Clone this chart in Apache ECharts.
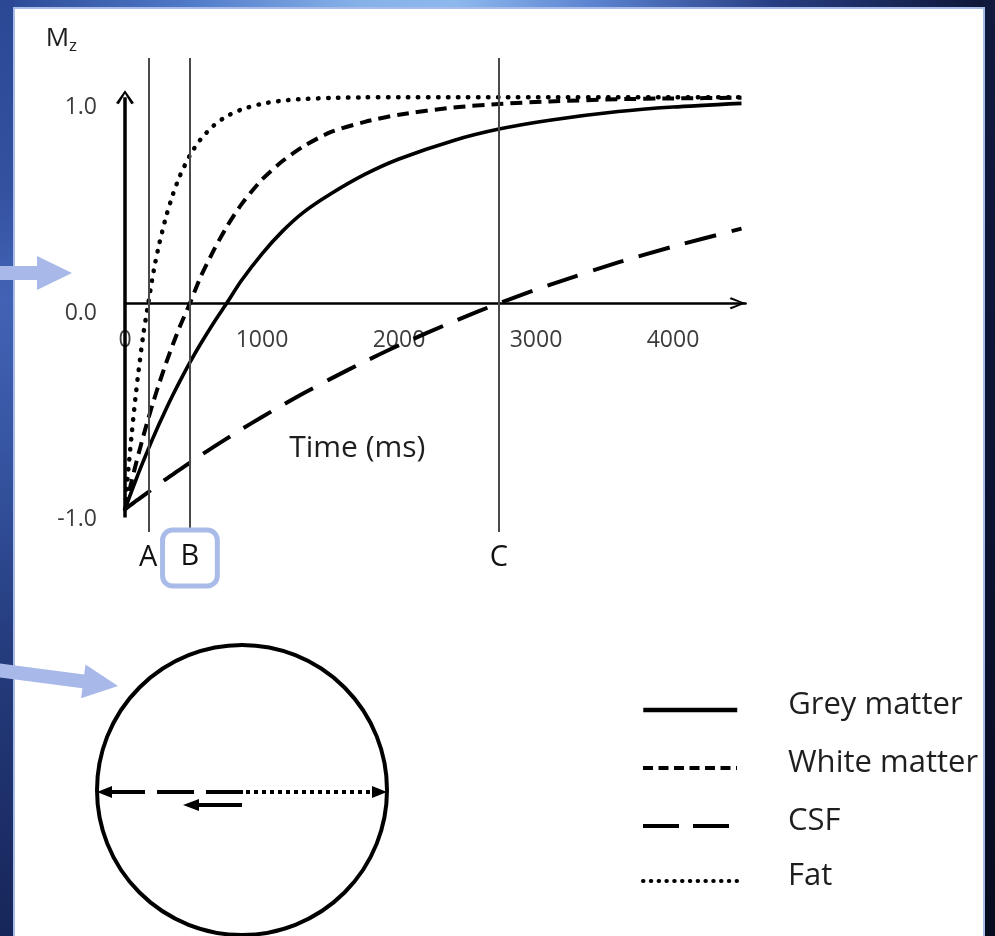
<!DOCTYPE html>
<html>
<head>
<meta charset="utf-8">
<title>Inversion recovery: longitudinal magnetisation</title>
<script src="https://cdn.jsdelivr.net/npm/echarts/dist/echarts.min.js"></script>
<style>
  html, body { margin: 0; padding: 0; width: 995px; height: 936px; overflow: hidden; background: #121d45; }
  #bgTop { position: absolute; left: 0; top: 0; width: 995px; height: 9px;
    background: linear-gradient(90deg, #2a4894 0%, #4d77c6 18%, #86b2ea 36%, #8db8ee 46%, #5a82cf 60%, #273d82 78%, #0d1534 100%); }
  #bgLeft { position: absolute; left: 0; top: 0; width: 15px; height: 936px;
    background: linear-gradient(180deg, #2a4894 0%, #33519f 20%, #4263b5 32%, #3655a2 48%, #243b7c 70%, #17265a 100%); }
  #bgRight { position: absolute; right: 0; top: 0; width: 12px; height: 936px;
    background: linear-gradient(180deg, #101a3e 0%, #0c1433 50%, #070b1f 100%); }
  #panel { position: absolute; left: 13px; top: 7px; width: 972px; height: 940px; background: #ffffff;
    box-sizing: border-box; border: 2px solid #a9bbe8; }
  #chart { position: absolute; left: 0; top: 0; width: 995px; height: 936px; }
</style>
</head>
<body>
<div id="bgTop"></div>
<div id="bgLeft"></div>
<div id="bgRight"></div>
<div id="panel"></div>
<div id="chart"></div>
<script>
// Sample times (ms) after the 180° inversion pulse
const times = [0, 25, 50, 75, 100, 135, 170, 210, 250, 300, 350, 400, 474, 550, 650,
               742, 850, 1000, 1150, 1300, 1500, 1750, 2000, 2400, 2730, 3100, 3600, 4000, 4500];

// Longitudinal magnetisation Mz for each tissue at those times
const greyMatter = [-1, -0.954, -0.909, -0.865, -0.822, -0.764, -0.708, -0.645, -0.585, -0.513,
                    -0.444, -0.379, -0.287, -0.199, -0.092, 0.0, 0.11, 0.24, 0.35, 0.44,
                    0.53, 0.625, 0.70, 0.79, 0.845, 0.888, 0.93, 0.952, 0.97];
const whiteMatter = [-1, -0.928, -0.859, -0.792, -0.728, -0.642, -0.560, -0.471, -0.388, -0.290,
                     -0.199, -0.114, 0.0, 0.125, 0.26, 0.37, 0.48, 0.60, 0.69, 0.76,
                     0.83, 0.88, 0.915, 0.95, 0.967, 0.979, 0.99, 0.994, 0.997];
const csf = [-1, -0.987, -0.975, -0.962, -0.950, -0.933, -0.916, -0.896, -0.877, -0.853,
             -0.830, -0.807, -0.774, -0.739, -0.696, -0.657, -0.612, -0.552, -0.494, -0.438,
             -0.367, -0.283, -0.204, -0.088, 0.0, 0.089, 0.198, 0.275, 0.362];
const fat = [-1, -0.804, -0.627, -0.467, -0.323, -0.145, 0.0, 0.160, 0.288, 0.421,
             0.529, 0.617, 0.718, 0.794, 0.864, 0.907, 0.940, 0.968, 0.983, 0.991,
             0.996, 0.999, 1.0, 1.0, 1.0, 1.0, 1.0, 1.0, 1.0];

// Tissue names, in legend order
const tissues = ['Grey matter', 'White matter', 'CSF', 'Fat'];

// Inversion times marked on the time axis (null points of fat, white matter, CSF)
const markerNames = ['A', 'B', 'C'];
const markerTimes = [170, 474, 2730];

// Axis tick values
const timeTicks = [0, 1000, 2000, 3000, 4000];
const mzTicks = [-1, 0, 1];

const FONT = '"Open Sans", "DejaVu Sans", sans-serif';
const chevron = 'path://M6,0 L12,14.6 L10.2,16 L6,4.2 L1.8,16 L0,14.6 Z';

// Value-axis range: extends past ±1 so the A/B/C guide lines span the full grid
const Y_MIN = -1.11, Y_MAX = 1.19;
const GRID_TOP = 58, GRID_HEIGHT = 474;
const zeroOffset = -(GRID_HEIGHT * (-Y_MIN) / (Y_MAX - Y_MIN));

// Line styles of the four tissues (chart strokes, then the shorter legend keys)
const seriesStyles = [
  { color: '#000', width: 3.6, type: 'solid' },
  { color: '#000', width: 4, type: [12, 7] },
  { color: '#000', width: 4, type: [32, 16] },
  { color: '#000', width: 4.5, type: [0.5, 9.5], cap: 'round' }
];
const legendStyles = [
  { width: 4.5, type: 'solid' },
  { width: 4, type: [10, 5.5] },
  { width: 4, type: [36, 14] },
  { width: 4, type: [0.5, 7.3], cap: 'round' }
];
const legendTops = [690, 748, 806, 861];

function pairs(values) { return times.map((t, i) => [t, values[i]]); }

const chart = echarts.init(document.getElementById('chart'), null, { renderer: 'canvas' });

const markerData = markerNames.map((name, i) => {
  const item = { xAxis: markerTimes[i], label: { formatter: name } };
  if (name === 'B') {
    item.label = {
      formatter: name,
      distance: -2,
      padding: [12, 18, 14, 18],
      borderColor: '#a9bbe8',
      borderWidth: 5,
      borderRadius: 10
    };
  }
  return item;
});

const legends = tissues.map((name, i) => ({
  orient: 'vertical', left: 641, top: legendTops[i], padding: 0,
  itemWidth: 94, itemHeight: 14,
  selectedMode: false,
  data: [name],
  lineStyle: legendStyles[i],
  itemStyle: { color: 'rgba(0,0,0,0)', borderWidth: 0, opacity: 0 },
  formatter: n => '{s| }{t|' + n + '}',
  textStyle: {
    color: '#1e1e1e', fontFamily: FONT,
    rich: {
      s: { fontSize: 1, width: 46, lineHeight: 40 },
      t: { fontSize: 31, lineHeight: 40, verticalAlign: 'top', color: '#1e1e1e', fontFamily: FONT }
    }
  }
}));

const dataSets = [greyMatter, whiteMatter, csf, fat];
const series = tissues.map((name, i) => ({
  name: name, type: 'line', data: pairs(dataSets[i]),
  showSymbol: false, symbol: 'none', smooth: 0.25,
  lineStyle: seriesStyles[i],
  z: i === 0 ? 3 : 2
}));

// Guide lines at the inversion times, plus the Mz axis drawn with an arrowhead
series[0].markLine = {
  silent: true, animation: false,
  symbol: ['none', 'none'],
  lineStyle: { color: '#4a4a4a', width: 2, type: 'solid' },
  label: {
    show: true, position: 'start', distance: 11,
    fontSize: 29, lineHeight: 30, color: '#111', fontFamily: FONT
  },
  emphasis: { disabled: true },
  data: markerData.concat([
    [
      { coord: [0, -1.04], symbol: 'none', lineStyle: { color: '#000', width: 3.5 }, label: { show: false } },
      { coord: [0, 1.0], symbol: chevron, symbolSize: [18, 14] }
    ]
  ])
};

const option = {
  animation: false,
  grid: { left: 125, top: GRID_TOP, width: 620.6, height: GRID_HEIGHT, containLabel: false },
  xAxis: {
    type: 'value', min: 0, max: 4530, interval: 1000,
    offset: zeroOffset,
    axisLine: {
      onZero: false,
      lineStyle: { color: '#000', width: 2.5 },
      symbol: ['none', chevron], symbolSize: [13, 16], symbolOffset: [0, -8]
    },
    axisTick: { show: false },
    splitLine: { show: false },
    axisLabel: {
      margin: 26, fontSize: 23, color: '#3c3c3c', fontFamily: FONT,
      formatter: v => (timeTicks.indexOf(v) >= 0 ? String(v) : '')
    },
    name: 'Time (ms)', nameLocation: 'middle', nameGap: 127,
    nameTextStyle: { fontSize: 30, lineHeight: 36, color: '#1e1e1e', fontFamily: FONT, padding: [0, 156, 0, 0] }
  },
  yAxis: {
    type: 'value', min: Y_MIN, max: Y_MAX,
    axisLine: { show: false },
    axisTick: { show: false },
    splitLine: { show: false },
    axisLabel: {
      customValues: mzTicks, margin: 28, color: '#3c3c3c', fontFamily: FONT,
      formatter: v => '{s| }{v|' + v.toFixed(1) + '}',
      rich: {
        s: { fontSize: 1, lineHeight: 44 },
        v: { fontSize: 23, lineHeight: 24, verticalAlign: 'bottom', color: '#3c3c3c', fontFamily: FONT }
      }
    },
    name: 'M{sub|z}', nameLocation: 'end', nameGap: 3,
    nameTextStyle: {
      align: 'right', verticalAlign: 'bottom', padding: [0, 48, 0, 0],
      fontSize: 26, lineHeight: 32, color: '#1e1e1e', fontFamily: FONT,
      rich: { sub: { fontSize: 17, lineHeight: 32, verticalAlign: 'bottom', color: '#1e1e1e', fontFamily: FONT } }
    }
  },
  legend: legends,
  series: series,
  graphic: [
    // Cross-section of the head: circle with the signal vectors
    { type: 'circle', shape: { cx: 242, cy: 790, r: 145 }, style: { fill: 'none', stroke: '#000', lineWidth: 4 }, silent: true },
    { type: 'line', shape: { x1: 108, y1: 792, x2: 243, y2: 792 }, style: { stroke: '#000', lineWidth: 4, lineDash: [37, 12] }, silent: true },
    { type: 'line', shape: { x1: 246, y1: 792, x2: 376, y2: 792 }, style: { stroke: '#000', lineWidth: 4, lineDash: [4, 4] }, silent: true },
    { type: 'polygon', shape: { points: [[97, 792], [112, 786], [112, 798]] }, style: { fill: '#000' }, silent: true },
    { type: 'polygon', shape: { points: [[387, 792], [372, 786], [372, 798]] }, style: { fill: '#000' }, silent: true },
    { type: 'line', shape: { x1: 242, y1: 805, x2: 195, y2: 805 }, style: { stroke: '#000', lineWidth: 4 }, silent: true },
    { type: 'polygon', shape: { points: [[183, 805], [199, 799], [199, 811]] }, style: { fill: '#000' }, silent: true },
    // Pointer arrows at the left margin
    { type: 'polygon', shape: { points: [[0, 266], [37, 266], [37, 256], [72, 273], [37, 290], [37, 280], [0, 280]] },
      style: { fill: '#a8b9e9' }, silent: true, z: 100 },
    { type: 'polygon', shape: { points: [[-5, 662.8], [84.2, 674.5], [85.5, 664.5], [118, 686], [81.1, 698.3], [82.4, 688.3], [-6.8, 676.6]] },
      style: { fill: '#a8b9e9' }, silent: true, z: 100 }
  ]
};

chart.setOption(option);
</script>
</body>
</html>
